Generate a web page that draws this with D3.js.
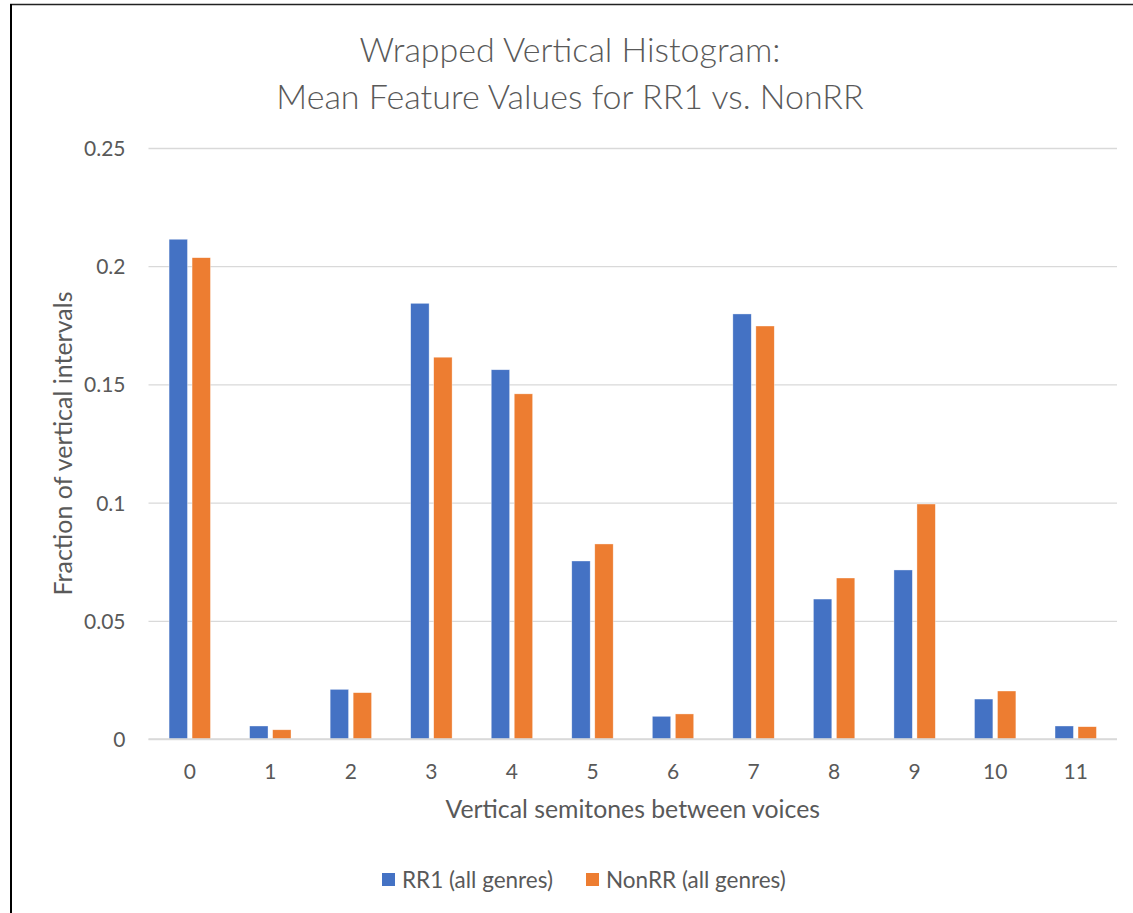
<!DOCTYPE html>
<html>
<head>
<meta charset="utf-8">
<script src="https://cdn.jsdelivr.net/npm/d3@7"></script>
<style>
  html, body { margin: 0; padding: 0; background: #fff; }
  svg { display: block; }
  text { font-family: "Lato", "Open Sans", sans-serif; fill: #595959; }
</style>
</head>
<body>
<svg id="chart" width="1133" height="913"></svg>
<script>
const categories = ["0","1","2","3","4","5","6","7","8","9","10","11"];
const seriesNames = ["RR1 (all genres)", "NonRR (all genres)"];
const rr1Values   = [0.2114, 0.0055, 0.0210, 0.1843, 0.1562, 0.0753, 0.0096, 0.1798, 0.0592, 0.0715, 0.0169, 0.0055];
const nonrrValues = [0.2036, 0.0039, 0.0196, 0.1615, 0.1460, 0.0825, 0.0106, 0.1747, 0.0681, 0.0994, 0.0203, 0.0052];
const yTicks = [0, 0.05, 0.1, 0.15, 0.2, 0.25];
const yTickLabels = ["0", "0.05", "0.1", "0.15", "0.2", "0.25"];
const colors = ["#4472C4", "#ED7D31"];
const titleLines = ["Wrapped Vertical Histogram:", "Mean Feature Values for RR1 vs. NonRR"];
const xTitle = "Vertical semitones between voices";
const yTitle = "Fraction of vertical intervals";

const seriesValues = [rr1Values, nonrrValues];
const svg = d3.select("#chart");
const FONT = "Lato, 'Open Sans', sans-serif";

// frame lines
svg.append("line").attr("x1", 10).attr("x2", 1133).attr("y1", 4.5).attr("y2", 4.5)
  .attr("stroke", "#222").attr("stroke-width", 1.5);
svg.append("line").attr("x1", 11).attr("x2", 11).attr("y1", 4).attr("y2", 913)
  .attr("stroke", "#000").attr("stroke-width", 2);

const plot = {left: 149.5, right: 1116, top: 148, bottom: 739};

const x0 = d3.scaleBand().domain(categories).range([plot.left, plot.right])
  .paddingInner(0.486).paddingOuter(0.243);
const x1 = d3.scaleBand().domain(seriesNames).range([0, x0.bandwidth()]).paddingInner(0.2);
const y = d3.scaleLinear().domain([0, 0.25]).range([plot.bottom, plot.top]);

// gridlines
const yAxis = d3.axisLeft(y).tickValues(yTicks).tickSize(-(plot.right - plot.left + 2))
  .tickFormat((d, i) => yTickLabels[i]);
const gy = svg.append("g").attr("transform", `translate(${plot.left - 1},0)`).call(yAxis);
gy.select(".domain").remove();
gy.selectAll(".tick line").attr("stroke", "#D9D9D9").attr("stroke-width", 1.3);
gy.selectAll(".tick text").attr("x", -23).attr("dy", "0.36em").attr("font-size", 21).attr("fill", "#595959")
  .style("font-family", FONT);

// bars
const groups = svg.append("g").selectAll("g").data(categories).join("g")
  .attr("transform", d => `translate(${x0(d)},0)`);
groups.selectAll("rect").data((c, ci) => seriesNames.map((s, si) => ({s, si, v: seriesValues[si][ci]})))
  .join("rect")
  .attr("x", d => x1(d.s))
  .attr("width", x1.bandwidth())
  .attr("y", d => y(d.v))
  .attr("height", d => y(0) - y(d.v))
  .attr("fill", d => colors[d.si])
  .attr("stroke", "#fff").attr("stroke-width", 0.6).attr("stroke-opacity", 0.6);

// x axis baseline
svg.append("line").attr("x1", plot.left - 1).attr("x2", plot.right + 1)
  .attr("y1", y(0)).attr("y2", y(0)).attr("stroke", "#D9D9D9").attr("stroke-width", 1.3);

// x axis labels
const xAxis = d3.axisBottom(x0).tickSize(0).tickPadding(0);
const gx = svg.append("g").attr("transform", `translate(0,${plot.bottom})`).call(xAxis);
gx.select(".domain").remove();
gx.selectAll(".tick text").attr("y", 32).attr("dy", "0.36em").attr("font-size", 21)
  .attr("fill", "#595959").style("font-family", FONT);

// title
svg.append("g").selectAll("text").data(titleLines).join("text")
  .attr("x", 570).attr("y", (d, i) => 62 + i * 47)
  .attr("text-anchor", "middle").attr("font-size", 34).attr("font-weight", 300).text(d => d);

// axis titles
svg.append("text").attr("x", (plot.left + plot.right) / 2).attr("y", 809).attr("dy", "0.36em")
  .attr("text-anchor", "middle").attr("font-size", 24.8).text(xTitle);
svg.append("text").attr("transform", `translate(63,${(plot.top + plot.bottom) / 2}) rotate(-90)`)
  .attr("dy", "0.36em")
  .attr("text-anchor", "middle").attr("font-size", 25).text(yTitle);

// legend
const legend = svg.append("g");
const legendX = [382, 586];
seriesNames.forEach((s, i) => {
  legend.append("rect").attr("x", legendX[i]).attr("y", 873).attr("width", 13).attr("height", 13)
    .attr("fill", colors[i]);
  legend.append("text").attr("x", legendX[i] + 20).attr("y", 880).attr("dy", "0.36em")
    .attr("font-size", 22.5).text(s);
});
</script>
</body>
</html>
